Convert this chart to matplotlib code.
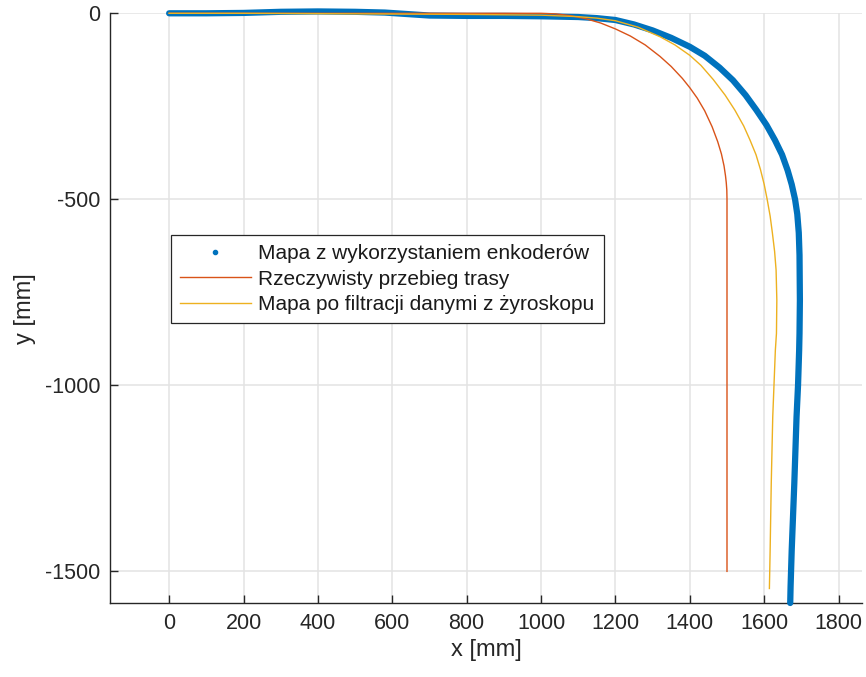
import matplotlib
matplotlib.use("Agg")
import matplotlib.pyplot as plt

plt.rcParams['font.family'] = ['Liberation Sans', 'DejaVu Sans']
plt.rcParams['axes.unicode_minus'] = False

# Encoder-based map (blue, dotted thick)
enc_x = [0, 100, 200, 300, 400, 500, 580, 640, 700, 800, 900, 1000, 1100, 1150,
         1200, 1250, 1300, 1350, 1400, 1440, 1480, 1516, 1550, 1579, 1606, 1629,
         1648, 1663, 1674, 1683, 1689, 1693, 1695, 1696, 1695, 1694, 1691, 1687,
         1681, 1674, 1671, 1670]
enc_y = [0, 0, 1, 4, 5, 4, 2, -2, -6, -7, -7, -8, -10, -13,
         -18, -30, -46, -66, -90, -114, -146, -180, -220, -260, -300, -341,
         -380, -422, -460, -500, -540, -590, -650, -771, -860, -906, -1000, -1085,
         -1263, -1443, -1540, -1585]

# Real path (red)
real_x = [0, 200, 400, 600, 800, 1000, 1040, 1080, 1120, 1160, 1200, 1240, 1280,
          1320, 1350, 1380, 1400, 1420, 1440, 1460, 1475, 1485, 1492, 1496, 1498,
          1499.5, 1500, 1500]
real_y = [0, 0, 0, 0, 0, 0, -1.6, -6.4, -14.5, -26, -42, -61, -85,
          -116, -143, -175, -200, -228, -262, -305, -345, -378, -410, -437, -455,
          -475, -500, -1500]

# Gyro-filtered map (yellow)
gyro_x = [0, 200, 400, 600, 800, 1000, 1100, 1150, 1200, 1260, 1320, 1360, 1400,
          1430, 1463, 1495, 1521, 1545, 1562, 1578, 1590, 1600, 1608, 1616, 1622,
          1628, 1632, 1634, 1633, 1630, 1623, 1619, 1616, 1614]
gyro_y = [0, 0, -1, -2, -3, -5, -9, -13, -20, -37, -63, -85, -113,
          -140, -178, -220, -260, -303, -341, -380, -420, -460, -500, -545, -590,
          -640, -690, -771, -860, -906, -1085, -1263, -1443, -1546]

labels = ['Mapa z wykorzystaniem enkoderów',
          'Rzeczywisty przebieg trasy',
          'Mapa po filtracji danymi z żyroskopu']
x_ticks = [0, 200, 400, 600, 800, 1000, 1200, 1400, 1600, 1800]
y_ticks = [-1500, -1000, -500, 0]

c_blue = '#0072BD'
c_red = '#D95319'
c_yel = '#EDB120'
c_ax = '#262626'

fig = plt.figure(figsize=(8.66, 6.77), dpi=100)
ax = fig.add_axes([110/866, 1-603/677, (862-110)/866, (603-13.3)/677])

ax.plot(enc_x, enc_y, '-', color=c_blue, lw=4.5, solid_capstyle='round',
        solid_joinstyle='round', clip_on=False, zorder=3)
h1, = ax.plot([], [], '.', color=c_blue, ms=6, label=labels[0])
h2, = ax.plot(real_x, real_y, '-', color=c_red, lw=1.0, clip_on=False,
              label=labels[1], zorder=4)
h3, = ax.plot(gyro_x, gyro_y, '-', color=c_yel, lw=1.0, clip_on=False,
              label=labels[2], zorder=5)

ax.set_xlim(-159, 1863)
ax.set_ylim(-1585, 0)
ax.set_xticks(x_ticks)
ax.set_yticks(y_ticks)

for s in ['top', 'right']:
    ax.spines[s].set_visible(False)
for s in ['left', 'bottom']:
    ax.spines[s].set_color(c_ax)
    ax.spines[s].set_linewidth(1.0)

ax.tick_params(direction='in', length=6, width=1.0, color=c_ax,
               labelcolor=c_ax, labelsize=15.5, pad=7)
ax.grid(True, color='#e3e3e3', lw=1.1)
ax.set_axisbelow(True)

ax.set_xlabel('x [mm]', fontsize=17, color=c_ax, labelpad=4)
ax.set_ylabel('y [mm]', fontsize=17, color=c_ax, labelpad=6)

leg = ax.legend(handles=[h1, h2, h3], loc='upper left',
                bbox_to_anchor=((170.7-110)/752, 1-(235-13.3)/589.7),
                borderaxespad=0, fontsize=15.0, fancybox=False, framealpha=1,
                edgecolor=c_ax, handlelength=3.4, handletextpad=0.35,
                borderpad=0.45, labelspacing=0.3)
leg.get_frame().set_linewidth(0.9)
for t in leg.get_texts():
    t.set_color('#1a1a1a')

fig.savefig('out.png', dpi=100)
